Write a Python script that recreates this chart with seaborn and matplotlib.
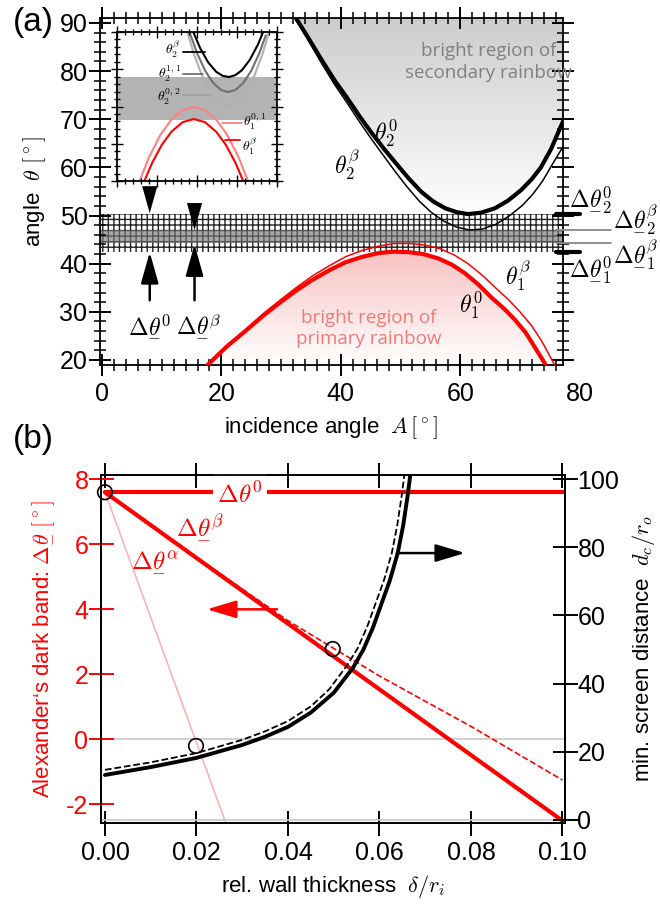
import numpy as np
import matplotlib
matplotlib.use("Agg")
import matplotlib.pyplot as plt
import seaborn as sns
from matplotlib.colors import LinearSegmentedColormap
from matplotlib.ticker import MultipleLocator

# ---------------- panel (a): scattering angle vs incidence angle
a_th20 = [32.5, 34.5, 36.8, 39.0, 41.3, 43.2, 45.2, 47.2, 49.2, 51.3, 53.5, 55.5, 57.5,
          59.4, 61.3, 63.5, 65.8, 68.0, 70.2, 72.0, 73.5, 75.2, 76.8, 77.3]
th20 = [91.0, 87.0, 82.3, 78.0, 74.0, 70.5, 67.1, 63.9, 60.9, 57.8, 54.9, 52.9, 51.5,
        50.7, 50.3, 50.6, 51.5, 53.1, 55.3, 57.6, 60.0, 63.8, 68.4, 69.8]

a_th2b = [32.3, 34.3, 36.6, 38.8, 41.1, 43.0, 45.0, 47.0, 49.0, 51.0, 53.2, 55.2, 57.3,
          59.4, 61.5, 63.7, 66.0, 68.2, 70.4, 72.2, 73.8, 75.5, 77.3]
th2b = [91.0, 87.0, 82.0, 77.5, 73.3, 69.7, 66.1, 62.7, 59.3, 56.1, 52.9, 50.6, 48.8,
        47.6, 47.0, 47.2, 48.2, 49.9, 52.1, 54.5, 57.2, 60.8, 64.5]

a_th10 = [17.7, 21.0, 24.2, 27.0, 29.7, 32.5, 35.2, 38.0, 40.8, 43.5, 46.3, 48.8, 51.3,
          53.8, 56.3, 58.6, 60.8, 63.0, 65.2, 67.3, 69.2, 71.0, 72.5, 74.3]
th10 = [19.0, 22.9, 26.2, 29.2, 31.8, 34.4, 36.6, 38.6, 40.3, 41.4, 42.2, 42.5, 42.4,
        42.0, 41.1, 39.8, 38.0, 35.7, 33.0, 30.7, 28.3, 25.6, 22.6, 19.0]

a_th1b = [18.0, 21.2, 24.3, 27.1, 29.8, 32.6, 35.3, 38.1, 40.9, 43.7, 46.5, 49.0, 51.5,
          54.0, 56.6, 59.0, 61.3, 63.6, 65.9, 68.1, 70.0, 71.9, 73.6, 75.8]
th1b = [19.0, 23.2, 26.6, 29.7, 32.4, 35.1, 37.5, 39.6, 41.5, 42.8, 43.7, 44.2, 44.2,
        43.9, 43.1, 41.8, 40.0, 37.7, 35.0, 32.5, 30.0, 27.2, 24.0, 19.0]

# Alexander's dark band limits
dband_20, dband_2b, dband_1b, dband_10 = 50.3, 46.9, 44.3, 42.4

# inset (schematic, arbitrary units 0..100)
in_x_2b = [47, 52, 57, 62, 66, 70, 74, 78, 83, 88, 92]
in_y_2b = [101.7, 89.1, 79.6, 73.3, 70.6, 69.8, 71.1, 74.3, 81.3, 91.4, 101.7]
in_x_211 = [45, 50, 55, 60, 65, 69.5, 74, 79, 84, 89, 93]
in_y_211 = [101.0, 85.9, 74.2, 65.9, 61.1, 59.7, 61.1, 65.9, 74.2, 85.9, 97.8]
in_x_202 = [43, 48, 53, 58, 63, 69.5, 76, 81, 86, 91, 96]
in_y_202 = [103.7, 85.4, 71.0, 60.3, 53.5, 50.3, 53.5, 60.3, 71.0, 85.4, 103.7]
in_x_101 = [13, 20, 27, 34, 41, 48, 55, 62, 69, 76, 83]
in_y_101 = [-3.0, 16.0, 30.7, 41.3, 47.6, 49.7, 47.6, 41.3, 30.7, 16.0, -3.0]
in_x_1b = [16, 22, 28, 34, 41, 48, 55, 62, 68, 74, 80]
in_y_1b = [-2.7, 12.3, 24.3, 33.1, 39.5, 41.6, 39.5, 33.1, 24.3, 12.3, -2.7]
in_band = (40.9, 69.8)

# ---------------- panel (b): dark band width and screen distance vs wall thickness
b_x_line = [0.0, 0.1005]
dth0 = [7.6, 7.6]
b_x_beta = [0.0, 0.1]
dth_beta = [7.6, -2.5]
b_x_beta_d = [0.0, 0.02, 0.04, 0.06, 0.08, 0.1]
dth_beta_d = [7.6, 5.6, 3.65, 1.95, 0.4, -1.25]
b_x_alpha = [0.0, 0.0265]
dth_alpha = [7.6, -2.6]

b_x_dc = [0.0, 0.01, 0.02, 0.03, 0.035, 0.04, 0.045, 0.05, 0.0542, 0.0565, 0.0586, 0.0623,
          0.064, 0.0652, 0.0662, 0.067]
dc = [13.2, 15.5, 18.2, 22.0, 24.4, 27.3, 31.5, 37.3, 44.6, 50.0, 56.5, 70.4,
      78.3, 86.5, 95.5, 104.0]
b_x_dc_d = [0.0, 0.01, 0.02, 0.03, 0.035, 0.04, 0.045, 0.049, 0.053, 0.0553, 0.0574, 0.061,
            0.0627, 0.0639, 0.0649, 0.0657]
dc_d = [14.7, 16.9, 19.6, 23.5, 26.0, 29.0, 33.3, 38.3, 45.5, 50.5, 57.0, 70.4,
        78.3, 86.5, 95.5, 104.0]

circ_x = [0.0, 0.0498, 0.0199]
circ_y = [7.6, 2.78, -0.2]

RED = "#ff0000"
PINK = "#ffb3b3"
UTH = r"\underset{-}{\theta}"   # underlined theta (mathtext has no \underline)

sns.set_theme(style="ticks")
plt.rcParams["font.family"] = ["Liberation Sans", "DejaVu Sans"]
plt.rcParams["mathtext.fontset"] = "cm"
plt.rcParams["hatch.linewidth"] = 1.0
plt.rcParams["axes.linewidth"] = 1.3
plt.rcParams.update({"text.color": "black", "axes.labelcolor": "black",
                     "xtick.color": "black", "ytick.color": "black",
                     "axes.edgecolor": "black", "axes.axisbelow": False})


def gradient_fill(ax, x, y1, y2, c_lo, c_hi, ylo, yhi):
    poly = ax.fill_between(x, y1, y2, facecolor="none", edgecolor="none")
    cmap = LinearSegmentedColormap.from_list("grad", [c_lo, c_hi])
    img = ax.imshow(np.linspace(0, 1, 256).reshape(-1, 1), cmap=cmap, origin="lower",
                    aspect="auto", extent=(min(x), max(x), ylo, yhi), zorder=0.5)
    img.set_clip_path(poly.get_paths()[0], transform=ax.transData)


fig = plt.figure(figsize=(6.6, 9.07), dpi=100)

# =============== panel (a)
ax = fig.add_axes([0.1515, 0.5976, 0.7015, 0.3826])
xlim_a = (-0.33, 77.2)
ylim_a = (18.96, 91.04)

gradient_fill(ax, a_th20, th20, 92, "white", "#cccccc", 50, 91)
gradient_fill(ax, a_th10, 18.9, th10, "white", "#f9c2c2", 19, 42.5)

ax.fill_between(xlim_a, dband_10, dband_20, facecolor="white", edgecolor="#222222",
                hatch="+++", linewidth=0, zorder=1)
ax.fill_between(xlim_a, dband_1b, dband_2b, facecolor="#a8a8a8", edgecolor="#555555",
                hatch="+++", linewidth=0, zorder=1.1)

sns.lineplot(x=a_th2b, y=th2b, ax=ax, color="black", lw=1.1, sort=False, estimator=None, zorder=3)
sns.lineplot(x=a_th20, y=th20, ax=ax, color="black", lw=3.0, sort=False, estimator=None, zorder=3)
sns.lineplot(x=a_th1b, y=th1b, ax=ax, color=RED, lw=1.1, sort=False, estimator=None, zorder=3)
sns.lineplot(x=a_th10, y=th10, ax=ax, color=RED, lw=3.0, sort=False, estimator=None, zorder=3)

ax.set_xlim(*xlim_a)
ax.set_ylim(*ylim_a)
ax.xaxis.set_major_locator(MultipleLocator(20))
ax.xaxis.set_minor_locator(MultipleLocator(2))
ax.yaxis.set_major_locator(MultipleLocator(10))
ax.yaxis.set_minor_locator(MultipleLocator(2))
ax.tick_params(which="both", direction="inout", top=True, right=True, bottom=True, left=True,
               color="black")
ax.tick_params(which="major", length=16, width=1.4, labelsize=18)
ax.tick_params(which="minor", length=8, width=1.1)
ax.tick_params(axis="x", which="major", pad=4)
ax.tick_params(axis="y", which="major", pad=1)
ax.annotate("80", xy=(80, ylim_a[0]), xytext=(0, -12), textcoords="offset points",
            ha="center", va="top", fontsize=18, annotation_clip=False)
ax.set_xlabel(r"incidence angle  $A\,[^\circ]$", fontsize=16, labelpad=6)
ax.set_ylabel(r"angle  $\theta\ [^\circ]$", fontsize=16, labelpad=8)

# dark band markers on the right
for yv, col, x1, lw in [(dband_20, "black", 80.0, 3.0), (dband_10, "black", 80.0, 3.0),
                        (dband_2b, "#888888", 85.2, 1.3), (dband_1b, "#888888", 85.2, 1.3)]:
    ax.plot([76.0, x1], [yv, yv], color=col, lw=lw, clip_on=False, zorder=4)
ax.text(81.9, 53.4, r"$\Delta" + UTH + r"_2^0$", fontsize=17, ha="center", va="center")
ax.text(89.4, 49.3, r"$\Delta" + UTH + r"_2^\beta$", fontsize=17, ha="center", va="center")
ax.text(89.4, 42.0, r"$\Delta" + UTH + r"_1^\beta$", fontsize=17, ha="center", va="center")
ax.text(81.9, 38.7, r"$\Delta" + UTH + r"_1^0$", fontsize=17, ha="center", va="center")

# arrows marking the band widths
for xa, tip_dn, base_dn, tip_up in [(8.0, 50.5, 56.0, 42.4), (15.5, 47.0, 52.8, 44.0)]:
    ax.annotate("", xy=(xa, tip_dn), xytext=(xa, base_dn - 0.2),
                arrowprops=dict(arrowstyle="-|>,head_length=1.6,head_width=0.45",
                                color="black", lw=0.1, shrinkA=0, shrinkB=0), zorder=5)
    ax.annotate("", xy=(xa, tip_up), xytext=(xa, 32.4),
                arrowprops=dict(arrowstyle="-|>,head_length=1.6,head_width=0.45",
                                color="black", lw=1.8, shrinkA=0, shrinkB=0), zorder=5)
ax.text(8.0, 27.2, r"$\Delta" + UTH + r"^0$", fontsize=17, ha="center", va="center")
ax.text(16.2, 27.2, r"$\Delta" + UTH + r"^\beta$", fontsize=17, ha="center", va="center")

ax.text(64.7, 81.9, "bright region of\nsecondary rainbow", color="#808080", fontsize=13.5,
        family="Open Sans", ha="center", va="center", linespacing=1.25)
ax.text(44.7, 26.6, "bright region of\nprimary rainbow", color="#f07a7a", fontsize=13.5,
        family="Open Sans", ha="center", va="center", linespacing=1.2)
ax.text(47.5, 67.1, r"$\theta_2^0$", fontsize=17, ha="center", va="center")
ax.text(41.0, 60.6, r"$\theta_2^\beta$", fontsize=17, ha="center", va="center")
ax.text(69.7, 37.6, r"$\theta_1^\beta$", fontsize=17, ha="center", va="center")
ax.text(61.8, 31.4, r"$\theta_1^0$", fontsize=17, ha="center", va="center")

# inset
axi = fig.add_axes([0.1773, 0.8004, 0.2424, 0.1643])
axi.set_facecolor("white")
axi.axhspan(*in_band, color="#b3b3b3", lw=0, zorder=0)
axi.plot(in_x_202, in_y_202, color="#b0b0b0", lw=1.5)
axi.plot(in_x_211, in_y_211, color="#707070", lw=1.5)
axi.plot(in_x_2b, in_y_2b, color="black", lw=1.5)
axi.plot(in_x_101, in_y_101, color="#ff8080", lw=1.5)
axi.plot(in_x_1b, in_y_1b, color=RED, lw=1.5)
axi.set_xlim(0, 100)
axi.set_ylim(0, 100)
for (x0, x1, yv, col, lab, ha, xt, yt) in [
        (41, 55, 86.6, "black", r"$\theta_2^\beta$", "right", 40, 88.5),
        (41, 54, 71.8, "#707070", r"$\theta_2^{1,1}$", "right", 40, 72.0),
        (41, 58, 57.7, "#a0a0a0", r"$\theta_2^{0,2}$", "right", 40, 56.5),
        (65.6, 78, 38.9, "#ff8080", r"$\theta_1^{0,1}$", "left", 79, 40.0),
        (67.5, 77, 27.5, RED, r"$\theta_1^\beta$", "left", 78, 23.5)]:
    axi.plot([x0, x1], [yv, yv], color=col, lw=1.3)
    axi.text(xt, yt, lab, fontsize=10, ha=ha, va="center")
axi.xaxis.set_major_locator(MultipleLocator(25))
axi.xaxis.set_minor_locator(MultipleLocator(5))
axi.yaxis.set_major_locator(MultipleLocator(25))
axi.yaxis.set_minor_locator(MultipleLocator(5))
axi.tick_params(which="both", direction="inout", top=True, right=True, left=True, bottom=True,
                labelleft=False, labelbottom=False, length=5, width=1.0, color="black")
axi.tick_params(which="major", length=8)
for s in axi.spines.values():
    s.set_linewidth(1.3)

# =============== panel (b)
axb = fig.add_axes([0.153, 0.0926, 0.703, 0.3837])
axr = axb.twinx()

axb.axhline(0, color="#c8c8c8", lw=1.2, zorder=1)
axr.axhline(0, color="#c8c8c8", lw=1.2, zorder=1)

sns.lineplot(x=b_x_alpha, y=dth_alpha, ax=axb, color=PINK, lw=1.2, sort=False, estimator=None)
sns.lineplot(x=b_x_beta_d, y=dth_beta_d, ax=axb, color=RED, lw=1.2, linestyle="--",
             sort=False, estimator=None)
sns.lineplot(x=b_x_beta, y=dth_beta, ax=axb, color=RED, lw=3.0, sort=False, estimator=None)
sns.lineplot(x=b_x_line, y=dth0, ax=axb, color=RED, lw=3.0, sort=False, estimator=None)
axb.scatter(circ_x, circ_y, s=110, facecolor="none", edgecolor="black", lw=1.2, zorder=6,
            clip_on=False)

axb.text(0.0295, 7.6, r"$\Delta" + UTH + r"^0$", color=RED, fontsize=18, ha="center",
         va="center", bbox=dict(facecolor="white", edgecolor="none", pad=3), zorder=5)
axb.text(0.0208, 6.55, r"$\Delta" + UTH + r"^\beta$", color=RED, fontsize=18,
         ha="center", va="center")
axb.text(0.011, 5.5, r"$\Delta" + UTH + r"^\alpha$", color=RED, fontsize=18,
         ha="center", va="center")
axb.annotate("", xy=(0.0223, 4.0), xytext=(0.0376, 4.0),
             arrowprops=dict(arrowstyle="-|>,head_length=1.5,head_width=0.45",
                             color=RED, lw=1.8, shrinkA=0, shrinkB=0))

sns.lineplot(x=b_x_dc_d, y=dc_d, ax=axr, color="black", lw=1.3, linestyle="--",
             sort=False, estimator=None)
sns.lineplot(x=b_x_dc, y=dc, ax=axr, color="black", lw=2.8, sort=False, estimator=None)
axr.annotate("", xy=(0.0787, 78.3), xytext=(0.0638, 78.3),
             arrowprops=dict(arrowstyle="-|>,head_length=1.5,head_width=0.45",
                             color="black", lw=1.8, shrinkA=0, shrinkB=0))

axb.set_xlim(-0.00087, 0.10055)
axb.set_ylim(-2.57, 8.13)
axr.set_ylim(-0.9, 101.2)
axb.set_xticks([0.0, 0.02, 0.04, 0.06, 0.08, 0.10])
axb.set_xticklabels(["0.00", "0.02", "0.04", "0.06", "0.08", "0.10"])
axb.set_yticks([-2, 0, 2, 4, 6, 8])
axb.set_yticklabels(["-2", "0", "2", "4", "6", "8"])
axr.set_yticks([0, 20, 40, 60, 80, 100])
axb.tick_params(axis="x", direction="inout", top=True, bottom=True, length=18, width=1.4,
                color="black", labelsize=18, pad=4)
axb.tick_params(axis="y", direction="inout", left=True, length=18, width=1.4, color=RED,
                labelcolor=RED, labelsize=18, pad=0)
axb.spines["left"].set_color("black")
axr.tick_params(axis="y", direction="inout", right=True, length=18, width=1.4, color="black",
                labelsize=18, pad=0)

axb.set_xlabel(r"rel. wall thickness  $\delta/r_i$", fontsize=16, labelpad=6)
axb.set_ylabel("Alexander\u2018s dark band: " + r"$\Delta" + UTH + r"\ [^\circ]$",
               color=RED, fontsize=16, labelpad=8)
axr.set_ylabel(r"min. screen distance  $d_c/r_o$", fontsize=16, labelpad=8)

fig.text(0.05, 0.975, "(a)", fontsize=24, ha="center", va="center")
fig.text(0.05, 0.515, "(b)", fontsize=24, ha="center", va="center")

fig.savefig("out.png", dpi=100)
